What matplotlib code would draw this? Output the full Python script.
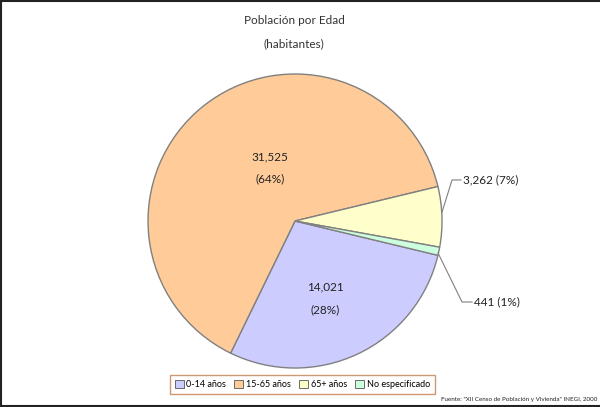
import matplotlib
matplotlib.use('Agg')
from matplotlib import pyplot as plt
from matplotlib.lines import Line2D

plt.rcParams['font.family'] = ['Lato', 'DejaVu Sans']

categories = ['0-14 años', '15-65 años', '65+ años', 'No especificado']
values = [14021, 31525, 3262, 441]
value_labels = ['14,021', '31,525', '3,262', '441']
pct_labels = ['(28%)', '(64%)', '(7%)', '(1%)']
colors = ['#CCCCFF', '#FFCC99', '#FFFFCC', '#CCFFDD']
txt = '#222222'

fig = plt.figure(figsize=(6, 4.07), dpi=100)
fig.patch.set_facecolor('white')

ax = fig.add_axes([0.2467, 0.0958, 0.49, 0.7224])
wedges, _ = ax.pie(values, colors=colors, startangle=346.5, counterclock=False,
                   wedgeprops=dict(edgecolor='#808080', linewidth=1.0))
ax.set_xlim(-1, 1)
ax.set_ylim(-1, 1)
ax.set_aspect('equal')
ax.axis('off')

# labels inside the big slices
ax.text(-0.17, 0.435, value_labels[1], ha='center', va='center', fontsize=8.5, color=txt)
ax.text(-0.17, 0.29, pct_labels[1], ha='center', va='center', fontsize=8.5, color=txt)
ax.text(0.204, -0.449, value_labels[0], ha='center', va='center', fontsize=8.5, color=txt)
ax.text(0.204, -0.605, pct_labels[0], ha='center', va='center', fontsize=8.5, color=txt)

# leader lines for small slices
ax.plot([1.0, 1.068, 1.129], [0.06, 0.279, 0.279], color='#808080', lw=0.8, clip_on=False)
ax.text(1.14, 0.279, f'{value_labels[2]} {pct_labels[2]}', ha='left', va='center',
        fontsize=8.5, color=txt)
ax.plot([0.973, 1.136, 1.204], [-0.218, -0.551, -0.551], color='#808080', lw=0.8, clip_on=False)
ax.text(1.215, -0.551, f'{value_labels[3]} {pct_labels[3]}', ha='left', va='center',
        fontsize=8.5, color=txt)

fig.text(0.49, 1 - 20 / 407, 'Población por Edad', ha='center', va='center', fontsize=8.5, color='#333333')
fig.text(0.49, 1 - 44 / 407, '(habitantes)', ha='center', va='center', fontsize=8.5, color='#333333')

leg = fig.legend(wedges, categories, loc='center', bbox_to_anchor=(0.504, 0.0553), ncol=4,
                 fontsize=6.5, frameon=True, fancybox=False, handlelength=1.0, handleheight=1.0,
                 handletextpad=0.3, columnspacing=0.9, borderpad=0.55, borderaxespad=0)
leg.get_frame().set_edgecolor('#C08050')
leg.get_frame().set_linewidth(1.0)
for h in leg.legend_handles:
    h.set_edgecolor('#555555')
    h.set_linewidth(0.6)

fig.text(0.995, 1 - 399 / 407, 'Fuente: "XII Censo de Población y Vivienda" INEGI, 2000',
         ha='right', va='center', fontsize=4.5, color=txt)

# dark frame on top, left and bottom
for xs, ys in [([0, 1], [0.998, 0.998]), ([0.0015, 0.0015], [0, 1]), ([0, 1], [0.002, 0.002])]:
    fig.add_artist(Line2D(xs, ys, transform=fig.transFigure, color='#222222', lw=1.5))

fig.savefig('out.png', dpi=100)
